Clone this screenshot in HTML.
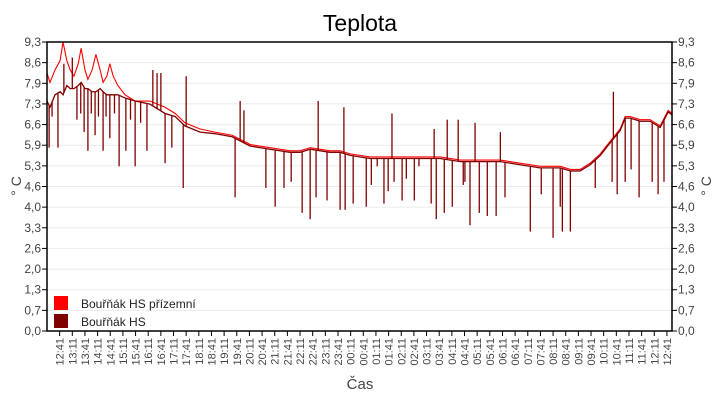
<!DOCTYPE html>
<html><head><meta charset="utf-8"><style>
body{margin:0;background:#fff;width:720px;height:400px;overflow:hidden;font-family:"Liberation Sans",sans-serif}
</style></head><body>
<svg id="c" width="720" height="400" xmlns="http://www.w3.org/2000/svg"></svg>
<script>
// ---- data (time in minutes since 12:11) ----
const xLabels=["12:41","13:11","13:41","14:11","14:41","15:11","15:41","16:11","16:41","17:11","17:41","18:11","18:41","19:11","19:41","20:11","20:41","21:11","21:41","22:11","22:41","23:11","23:41","00:11","00:41","01:11","01:41","02:11","02:41","03:11","03:41","04:11","04:41","05:11","05:41","06:11","06:41","07:11","07:41","08:11","08:41","09:11","09:41","10:11","10:41","11:11","11:41","12:11","12:41"];
const yLabels=["0,0","0,7","1,3","2,0","2,6","3,3","4,0","4,6","5,3","5,9","6,6","7,3","7,9","8,6","9,3"];
const times=[0,7,19,31,38,47,55,64,74,81,90,97,107,116,126,133,142,149,157,168,185,209,244,280,304,327,363,398,439,482,529,576,600,624,671,695,719,766,837,885,932,980,1027,1075,1122,1169,1217,1241,1264,1288,1312,1335,1359,1371,1383,1407,1430,1442,1454,1473,1482];
const redValues=[8.3,8.0,8.4,8.7,9.3,8.7,8.4,8.2,8.6,9.1,8.4,8.1,8.4,8.9,8.4,8.0,8.2,8.6,8.2,7.9,7.6,7.4,7.4,7.2,7.0,6.7,6.5,6.4,6.3,6.0,5.9,5.8,5.8,5.9,5.8,5.8,5.7,5.6,5.6,5.6,5.6,5.5,5.5,5.5,5.4,5.3,5.3,5.2,5.2,5.4,5.7,6.1,6.5,6.9,6.9,6.8,6.8,6.7,6.6,7.1,7.0];
const darkValues=[7.4,7.2,7.6,7.7,7.6,7.9,7.8,7.8,7.9,8.0,7.8,7.8,7.7,7.7,7.8,7.7,7.6,7.6,7.6,7.6,7.5,7.4,7.3,7.0,6.9,6.6,6.4,6.35,6.25,5.95,5.85,5.75,5.75,5.85,5.75,5.75,5.65,5.55,5.55,5.55,5.55,5.45,5.45,5.45,5.35,5.25,5.25,5.15,5.15,5.35,5.65,6.05,6.45,6.85,6.85,6.75,6.75,6.65,6.55,7.05,6.95];
const spikeTimes=[5,12,26,40,60,71,80,88,97,105,114,122,133,140,149,160,171,187,198,209,222,237,251,261,270,280,296,323,330,446,458,467,519,541,562,579,605,624,638,643,664,695,704,707,726,757,769,783,799,809,818,823,842,852,871,882,911,918,923,942,949,961,975,987,991,1003,1015,1025,1044,1065,1075,1086,1146,1172,1200,1217,1222,1241,1300,1340,1343,1352,1371,1385,1404,1435,1449,1463];
const spikeValues=[5.9,6.9,5.9,8.6,8.8,6.8,7.0,6.4,5.8,7.0,6.3,6.9,5.8,6.9,6.2,7.0,5.3,5.8,6.8,5.3,6.7,5.8,8.4,8.3,8.3,5.4,5.9,4.6,8.2,4.3,7.4,7.1,4.6,4.0,4.6,4.8,3.8,3.6,4.3,7.4,4.2,3.9,7.2,3.9,4.1,4.0,4.7,5.3,4.1,4.5,7.0,4.8,4.2,4.9,4.2,5.3,4.1,6.5,3.6,3.8,6.8,4.0,6.8,4.7,4.8,3.4,6.7,3.8,3.7,3.7,6.4,4.3,3.2,4.4,3.0,4.0,3.2,3.2,4.6,4.8,7.7,4.4,4.8,5.2,4.3,4.8,4.4,4.8];

const NS="http://www.w3.org/2000/svg";
const svg=document.getElementById('c');
const L=47,R=672,T=42,B=331,YMAX=9.3,TMAX=1482;
const xs=t=>L+t*(R-L)/TMAX;
const ys=v=>B-v*(B-T)/YMAX;
function mk(tag,attrs,parent){const e=document.createElementNS(NS,tag);for(const k in attrs)e.setAttribute(k,attrs[k]);(parent||svg).appendChild(e);return e;}
function interp(vals,t){for(let i=1;i<times.length;i++){if(t<=times[i]){const f=(t-times[i-1])/(times[i]-times[i-1]);return vals[i-1]+f*(vals[i]-vals[i-1]);}}return vals[vals.length-1];}

let e=mk('text',{x:360,y:31,'text-anchor':'middle','font-size':23,fill:'#000'});e.textContent='Teplota';



yLabels.forEach((lab,i)=>{
  const y=B-i*(B-T)/(yLabels.length-1);
  if(i>0){const g=mk('line',{x1:L,x2:R,y1:y,y2:y,stroke:'#ebebeb','stroke-width':1});
  
  }
  mk('line',{x1:L-5,x2:L,y1:y,y2:y,stroke:'#000'});
  mk('line',{x1:R,x2:R+5,y1:y,y2:y,stroke:'#000'});
  const a=mk('text',{x:L-6,y:y+4,'text-anchor':'end','font-size':12,fill:'#444'});a.textContent=lab;
  
  
  const b=mk('text',{x:R+6,y:y+4,'text-anchor':'start','font-size':12,fill:'#444'});b.textContent=lab;
  
  
});
xLabels.forEach((lab,i)=>{
  const x=xs(30+i*30);
  mk('line',{x1:x,x2:x,y1:B,y2:B+5,stroke:'#000'});
  const t=mk('text',{x:0,y:0,'text-anchor':'end','font-size':11,fill:'#444',transform:`translate(${x+4},${B+7}) rotate(-90)`});t.textContent=lab;
  
  
});

const clip=mk('clipPath',{id:'pc'});mk('rect',{x:L,y:T,width:R-L,height:B-T},clip);
const red=mk('polyline',{points:times.map((t,i)=>xs(t)+','+ys(redValues[i])).join(' '),fill:'none',stroke:'#ff0000','stroke-width':1.1,'clip-path':'url(#pc)'});


const dark=mk('polyline',{points:times.map((t,i)=>xs(t)+','+ys(darkValues[i])).join(' '),fill:'none',stroke:'#800000','stroke-width':1.3,'clip-path':'url(#pc)'});


spikeTimes.forEach((t,i)=>{
  const x=xs(t);
  const s=mk('line',{x1:x,x2:x,y1:ys(interp(darkValues,t)),y2:ys(spikeValues[i]),stroke:'#800000','stroke-width':1.3,'clip-path':'url(#pc)'});
  
  
});

mk('rect',{x:L,y:T,width:R-L,height:B-T,fill:'none',stroke:'#000','stroke-width':1.5});

e=mk('text',{x:0,y:0,'text-anchor':'middle','font-size':14,fill:'#444',transform:'translate(21,186) rotate(-90)'});e.textContent='° C';


e=mk('text',{x:0,y:0,'text-anchor':'middle','font-size':14,fill:'#444',transform:'translate(711,186) rotate(-90)'});e.textContent='° C';


e=mk('text',{x:360,y:389,'text-anchor':'middle','font-size':15,fill:'#444'});e.textContent='Čas';



const lg=mk('g',{});


[['#ff0000','Bouřňák HS přízemní',296],['#800000','Bouřňák HS',314]].forEach(([c,n,y])=>{
  const r=mk('rect',{x:54,y:y,width:14,height:14,fill:c},lg);
  
  
  const t=mk('text',{x:81,y:y+12,'font-size':12,fill:'#222'},lg);t.textContent=n;
  
  
});
</script>
</body></html>
